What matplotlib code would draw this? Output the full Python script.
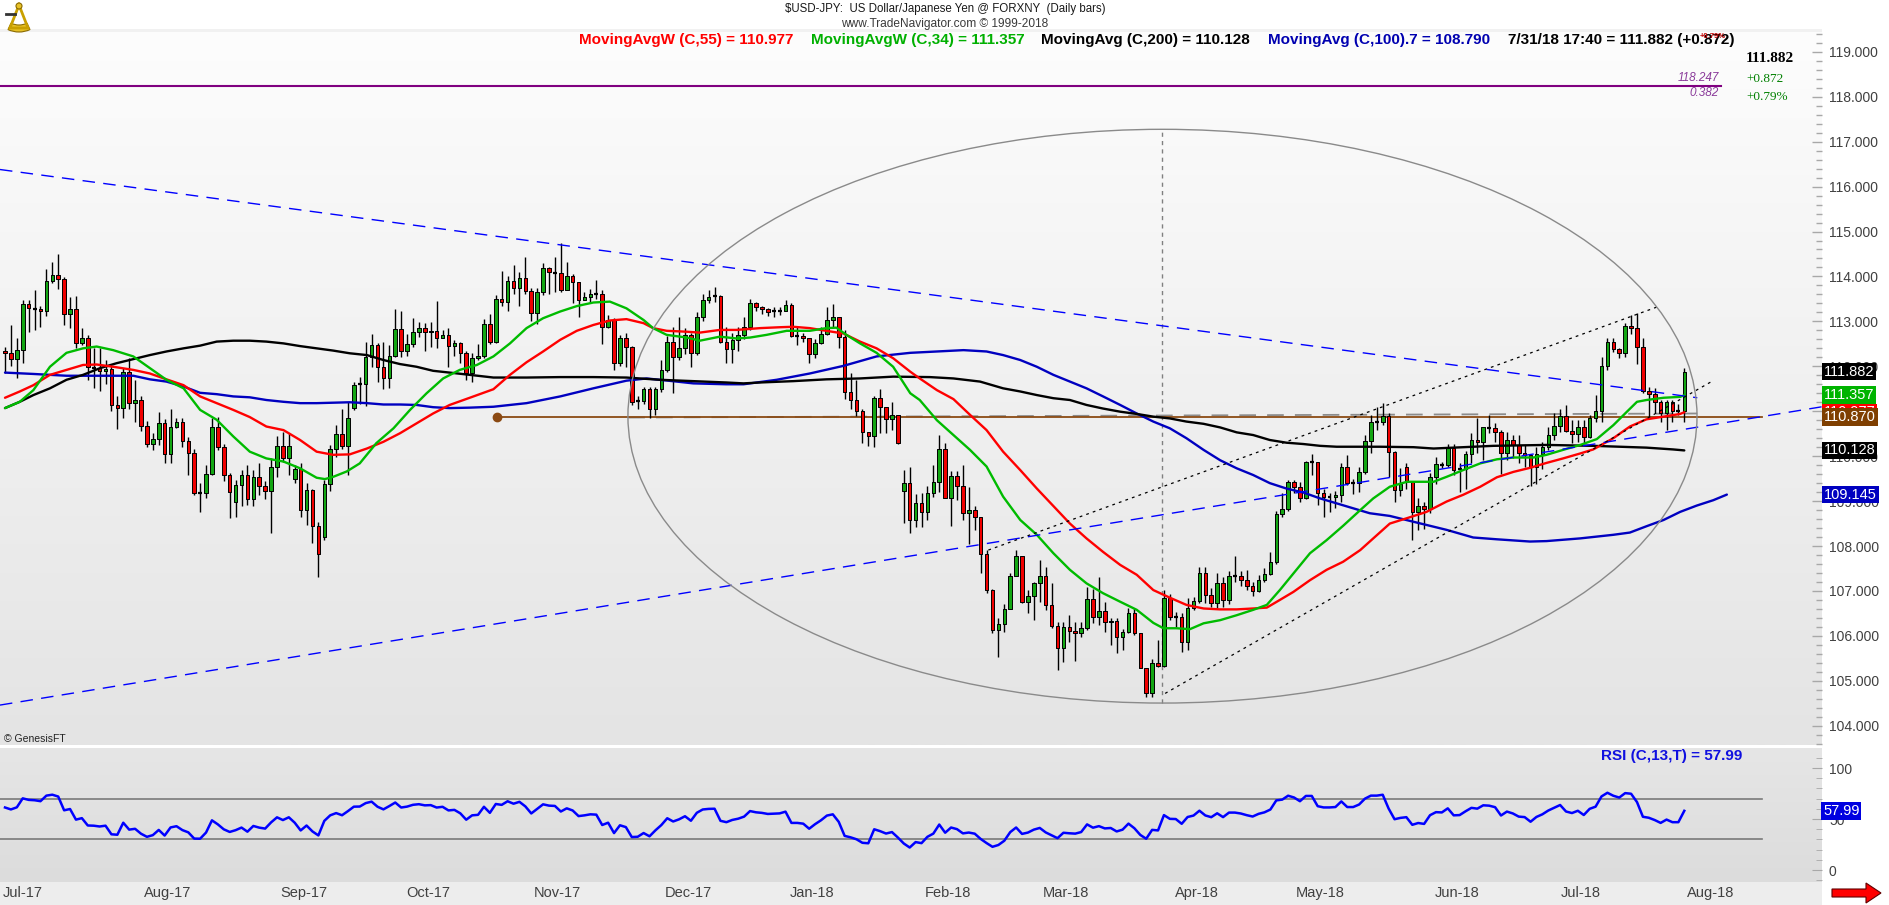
import numpy as np
import pandas as pd
import matplotlib
matplotlib.use("Agg")
import matplotlib.pyplot as plt
from matplotlib.patches import Ellipse, Rectangle, Polygon, Wedge, Circle
from matplotlib.collections import PatchCollection
import matplotlib.transforms as mtransforms
from matplotlib.ticker import MultipleLocator, FuncFormatter
from matplotlib.colors import LinearSegmentedColormap

plt.rcParams['font.family'] = ['Liberation Sans', 'DejaVu Sans']
plt.rcParams['lines.scale_dashes'] = False

# ---------------- data ----------------
dates = pd.bdate_range("2017-06-28", "2018-07-31")   # daily bars (285)

closes = [
    112.29,112.17,112.36,113.38,113.29,113.27,113.22,113.90,114.03,113.94,
    113.16,113.28,112.51,112.63,111.99,111.97,111.90,111.95,111.13,111.08,
    111.88,111.18,111.24,110.68,110.27,110.38,110.73,110.05,110.66,110.76,
    110.33,110.06,109.19,109.17,109.60,110.66,110.20,109.57,109.20,109.35,
    109.57,109.05,109.54,109.34,109.23,109.75,110.23,109.97,110.23,109.71,
    108.80,109.24,108.45,107.82,109.37,110.15,110.49,110.23,110.84,111.58,
    111.60,112.20,112.47,111.99,111.73,112.23,112.82,112.35,112.49,112.76,
    112.85,112.76,112.79,112.62,112.70,112.46,112.51,112.29,111.84,
    112.18,112.22,112.94,112.53,113.50,113.44,113.90,113.74,113.97,113.68,
    113.18,113.65,114.18,114.09,114.07,113.70,114.01,113.87,113.48,113.54,
    113.62,113.60,112.88,113.03,112.07,112.62,112.44,111.21,111.23,111.49,
    111.06,111.49,111.91,112.53,112.21,112.41,112.70,112.29,113.09,113.48,
    113.55,113.57,112.53,112.39,112.59,112.70,112.88,113.40,113.31,113.27,
    113.20,113.22,113.24,113.36,112.67,112.67,112.62,112.27,112.51,112.73,
    113.02,113.10,112.66,111.42,111.25,111.01,110.53,110.46,111.29,111.09,
    110.83,110.92,110.30,109.40,108.59,108.95,108.76,109.19,
    109.42,110.15,109.08,109.56,109.34,108.73,108.80,108.64,107.82,107.02,
    106.12,106.26,106.59,107.33,107.78,106.76,106.89,107.17,107.33,106.69,
    106.23,105.72,106.19,106.11,106.06,106.18,106.81,106.43,106.56,106.31,
    106.34,105.97,106.09,106.52,106.07,105.28,104.72,105.40,105.33,106.85,
    106.43,106.41,105.87,106.61,106.78,107.39,106.91,106.73,107.18,106.80,
    107.33,107.33,107.25,107.11,107.00,107.24,107.38,107.64,108.71,108.82,
    109.42,109.31,109.08,109.86,109.86,109.19,109.10,109.10,109.14,109.75,
    109.40,109.40,109.65,110.34,110.77,110.77,
    110.89,110.09,109.25,109.37,109.43,108.76,108.90,108.82,109.53,109.82,
    109.80,110.19,109.69,109.71,110.04,110.37,110.32,110.64,110.62,110.54,
    110.06,110.36,110.25,110.06,110.03,109.75,110.04,110.21,110.47,110.67,
    110.89,110.57,110.49,110.64,110.43,110.84,111.00,112.01,112.53,112.38,
    112.29,112.89,112.86,112.44,111.46,111.38,111.20,110.97,111.21,111.01,
    111.01,111.882,
]
highs = [
    112.44,112.93,112.62,113.48,113.48,113.70,113.35,114.16,114.32,114.50,
    113.98,113.54,113.57,112.86,112.70,112.40,112.40,112.15,112.01,111.33,
    111.96,112.18,111.70,111.33,110.79,110.51,110.98,110.83,111.05,110.84,
    110.84,110.42,110.17,109.40,109.80,110.84,110.88,110.28,109.62,109.47,
    109.69,109.80,109.69,109.84,109.44,109.95,110.45,110.54,110.51,109.80,
    109.84,109.41,109.28,108.54,109.47,110.25,110.69,111.04,111.21,111.66,
    111.77,112.53,112.71,112.51,112.53,112.47,113.28,113.22,112.71,113.08,
    112.99,112.96,112.99,113.45,112.81,112.85,112.58,112.53,112.33,
    112.29,112.49,113.05,113.16,113.59,114.13,114.01,114.26,114.11,114.44,
    113.74,113.74,114.29,114.22,114.43,114.74,114.33,114.06,113.88,113.66,
    113.71,113.92,113.70,113.14,113.07,112.70,112.74,112.45,111.33,111.55,
    111.55,111.55,112.15,112.67,112.88,113.09,112.85,112.74,113.20,113.60,
    113.70,113.76,113.59,112.88,112.75,112.88,113.10,113.49,113.44,113.35,
    113.30,113.32,113.33,113.48,113.40,112.88,112.75,112.62,112.60,112.88,
    113.33,113.38,113.10,112.81,111.84,111.70,111.04,110.53,111.33,111.49,
    111.09,111.21,110.92,109.70,109.77,109.15,109.19,109.33,
    109.81,110.48,110.29,109.67,109.67,109.80,109.32,108.89,108.64,107.91,
    107.05,106.40,106.72,107.39,107.91,107.78,107.02,107.21,107.68,107.54,
    107.18,106.32,106.32,106.46,106.32,106.32,107.08,107.04,107.32,106.76,
    106.40,106.39,106.15,106.61,106.61,106.07,105.28,105.48,105.91,107.02,
    106.93,106.54,106.50,106.84,106.87,107.53,107.53,107.06,107.39,107.32,
    107.45,107.78,107.45,107.47,107.21,107.35,107.52,107.86,108.77,109.19,
    109.47,109.47,109.43,109.89,110.05,109.88,109.28,109.19,109.22,109.85,
    110.03,109.50,109.75,110.47,110.92,111.10,
    111.19,110.95,110.12,109.74,109.84,109.43,109.08,108.99,109.62,109.99,
    109.88,110.27,110.27,109.85,110.12,110.51,110.85,110.66,110.91,110.73,
    110.58,110.54,110.48,110.47,110.25,110.03,110.21,110.32,110.65,110.95,
    111.06,111.15,110.80,110.80,110.80,110.91,111.36,112.20,112.62,112.64,
    112.40,112.96,113.14,113.19,112.62,111.55,111.51,111.25,111.25,111.25,
    111.17,111.97,
]
lows = [
    111.84,112.00,111.73,112.07,112.76,112.81,112.88,113.11,113.85,113.71,
    112.92,112.86,112.40,112.47,111.70,111.51,111.45,111.60,111.01,110.61,
    110.84,111.05,110.77,110.55,110.21,110.14,110.25,109.84,109.84,110.62,
    110.21,109.57,109.14,108.75,109.06,109.58,110.14,109.45,108.62,108.65,
    108.88,108.91,108.88,109.14,109.04,108.28,109.54,109.88,109.57,109.40,
    108.65,108.47,108.06,107.32,108.13,109.23,109.99,110.17,109.58,111.03,
    111.16,111.12,111.99,111.66,111.49,111.52,112.21,112.21,112.23,112.44,
    112.66,112.35,112.44,112.40,112.62,111.99,112.23,112.07,111.70,
    111.66,112.15,112.18,112.49,112.51,113.34,113.23,113.62,113.34,113.60,
    113.00,112.94,113.59,113.62,113.66,113.66,113.70,113.40,113.09,113.48,
    113.44,113.50,112.49,112.85,111.92,112.00,111.99,111.14,111.06,111.16,
    110.84,110.92,111.43,111.88,111.40,112.15,112.28,111.99,112.25,113.00,
    113.40,113.44,112.51,112.07,112.07,112.33,112.60,112.80,113.22,113.16,
    113.12,113.10,113.14,113.22,112.66,112.48,112.55,112.07,112.18,112.50,
    112.70,112.88,112.40,111.27,111.04,110.90,110.30,110.23,110.20,110.51,
    110.51,110.58,110.26,108.51,108.28,108.43,108.43,108.58,
    109.10,109.21,109.06,108.45,109.03,108.58,108.05,108.36,107.41,106.95,
    106.06,105.54,106.09,106.59,107.33,106.73,106.52,106.35,106.76,106.58,
    106.17,105.25,105.41,105.86,105.45,105.98,106.13,106.28,106.24,106.08,
    105.80,105.61,105.69,106.06,106.03,105.28,104.65,104.63,105.30,105.30,
    106.35,106.20,105.65,105.69,106.58,106.73,106.73,106.65,106.61,106.65,
    106.72,107.21,107.10,107.02,106.89,106.97,107.20,107.35,107.60,108.65,
    108.77,109.17,108.97,109.05,109.58,108.91,108.65,108.75,108.84,108.99,
    109.36,109.15,109.20,109.60,110.08,110.58,
    110.70,109.54,108.97,109.11,109.26,108.13,108.36,108.39,108.73,109.39,
    109.73,109.77,109.58,109.20,109.28,109.84,110.06,109.91,110.52,110.31,
    109.60,109.91,109.95,109.84,109.77,109.34,109.37,109.71,110.14,110.36,
    110.54,110.54,110.29,110.32,110.29,110.40,110.75,110.77,111.92,112.32,
    112.18,112.21,112.73,112.06,111.40,110.88,110.95,110.77,110.58,110.77,
    110.91,110.75,
]
# opens follow the previous close except where the chart shows a gap
gap_opens = {0: 112.35, 39: 108.98, 49: 109.49, 54: 108.21, 59: 111.07, 152: 109.23, 237: 109.75}

# moving averages as (bar, value) samples
wma55 = [(0,111.30),(2.5,111.44),(4.8,111.58),(7.6,111.81),(10.4,111.92),(13.2,112.03),(15.5,112.04),(18.3,111.99),(21.7,111.92),(24.5,111.84),(27.3,111.71),(30.2,111.58),(33,111.33),(35.8,111.18),(38.6,111.03),(41.4,110.87),(44.2,110.66),(47.1,110.58),(49.9,110.36),(52.7,110.10),(55.5,110.03),(58.3,110.04),(61.2,110.17),(64,110.32),(66.8,110.51),(69.6,110.73),(72.4,110.95),(75.2,111.14),(78.6,111.30),(82.6,111.49),(85.4,111.81),(88.2,112.09),(91,112.33),(93.9,112.59),(96.7,112.79),(99.5,112.92),(102.3,113.02),(105.1,113.05),(108,112.96),(109.6,112.85),(111.9,112.79),(115.3,112.77),(117.5,112.75),(120.9,112.81),(123.7,112.81),(127.7,112.85),(131.1,112.87),(133.3,112.88),(136.1,112.85),(138.9,112.79),(141.8,112.73),(144.6,112.55),(147.4,112.40),(150.2,112.18),(153.1,111.88),(154.7,111.73),(157.6,111.47),(160.4,111.27),(163.2,110.92),(166,110.58),(168.8,110.10),(171.7,109.69),(174.5,109.28),(177.3,108.89),(180.1,108.50),(182.9,108.17),(185.7,107.87),(188.6,107.58),(191.4,107.36),(194.2,107.02),(197,106.85),(199.8,106.69),(202.7,106.61),(205.5,106.59),(208.3,106.59),(211.1,106.61),(213.4,106.63),(215.6,106.80),(217.9,106.98),(220.7,107.24),(223.5,107.47),(226.3,107.65),(229.2,107.91),(231.4,108.17),(234.2,108.50),(237.1,108.62),(240.4,108.76),(243.8,108.99),(246.6,109.14),(249.5,109.32),(252.3,109.53),(255.1,109.65),(257.9,109.74),(260.7,109.85),(263.5,109.95),(266.4,110.06),(268.6,110.15),(272,110.40),(274.8,110.66),(277.6,110.82),(280.5,110.88),(283.3,110.94),(284,110.977)]
wma34 = [(0,111.07),(2.5,111.21),(4.8,111.47),(7.6,111.99),(10.4,112.30),(13.2,112.40),(15.5,112.44),(18.3,112.36),(21.7,112.22),(24.5,111.96),(27.3,111.70),(30.2,111.51),(33,111.03),(35.8,110.81),(38.6,110.44),(41.4,110.10),(44.2,109.95),(47.1,109.88),(49.9,109.73),(52.7,109.52),(54.1,109.49),(55.5,109.54),(57.8,109.66),(60,109.84),(62.8,110.29),(65.7,110.62),(68.5,111.03),(71.3,111.40),(74.1,111.73),(76.9,111.92),(79.8,112.03),(82.6,112.22),(85.4,112.51),(88.2,112.85),(91,113.07),(93.9,113.22),(96.7,113.34),(99.5,113.42),(102.3,113.44),(105.1,113.29),(108,113.03),(109.6,112.85),(111.9,112.70),(115.3,112.64),(117.5,112.57),(120.9,112.66),(123.7,112.62),(126,112.64),(128.8,112.70),(132.2,112.79),(136.1,112.79),(138.9,112.85),(140.6,112.86),(142.3,112.70),(144.6,112.51),(147.4,112.30),(150.2,111.99),(153.1,111.40),(154.7,111.25),(157.6,110.80),(160.4,110.47),(163.2,110.14),(166,109.77),(168.8,109.10),(171.7,108.58),(174.5,108.25),(177.3,107.84),(180.1,107.47),(182.9,107.17),(185.7,106.95),(188.6,106.76),(191.4,106.58),(194.2,106.29),(195.9,106.17),(198.1,106.17),(200.4,106.15),(202.7,106.28),(205.5,106.35),(208.3,106.46),(211.1,106.58),(213.4,106.69),(215.6,107.02),(217.9,107.39),(220.7,107.84),(223.5,108.13),(226.3,108.45),(229.2,108.80),(231.4,109.06),(234.2,109.32),(237.1,109.43),(241.6,109.43),(243.8,109.54),(246.6,109.69),(249.5,109.84),(252.3,109.93),(255.1,109.97),(258.5,109.97),(260.7,110.03),(263.5,110.14),(266.4,110.25),(269.2,110.38),(272,110.69),(274.3,110.99),(276,111.21),(277.6,111.25),(280.5,111.30),(283.3,111.32),(284,111.357)]
sma200 = [(0,111.07),(2.5,111.21),(4.8,111.36),(7.6,111.51),(10.4,111.70),(13.2,111.81),(16.1,111.96),(18.9,112.07),(21.7,112.16),(24.5,112.25),(27.3,112.33),(30.2,112.40),(33,112.46),(35.8,112.55),(38.6,112.57),(41.4,112.57),(44.2,112.55),(47.1,112.51),(49.9,112.45),(52.7,112.40),(55.5,112.35),(58.3,112.29),(61.2,112.25),(64,112.14),(66.8,112.05),(69.6,111.99),(72.4,111.90),(75.2,111.86),(78.6,111.81),(82.6,111.75),(88.2,111.75),(93.9,111.76),(99.5,111.76),(105.1,111.75),(110.8,111.70),(116.4,111.67),(122,111.64),(124.9,111.62),(127.7,111.64),(133.3,111.67),(138.9,111.71),(144.6,111.73),(150.2,111.77),(156.4,111.76),(160.4,111.73),(164.9,111.66),(168.8,111.51),(171.7,111.44),(174.5,111.36),(177.3,111.29),(180.1,111.25),(182.9,111.14),(185.7,111.06),(188.6,110.99),(191.4,110.94),(194.2,110.88),(197,110.84),(199.8,110.77),(202.7,110.72),(205.5,110.64),(208.3,110.53),(211.1,110.47),(213.9,110.36),(216.7,110.30),(219.6,110.27),(222.4,110.23),(225.2,110.21),(228,110.21),(232.5,110.21),(238.2,110.20),(241.6,110.17),(251.7,110.23),(260.7,110.25),(268.6,110.23),(277.6,110.19),(282.1,110.15),(284,110.128)]
sma100_fwd7 = [(0,111.86),(4.8,111.83),(10.4,111.79),(16.1,111.79),(21.7,111.79),(24.5,111.71),(27.3,111.66),(30.2,111.55),(33,111.41),(35.8,111.38),(38.6,111.33),(41.4,111.31),(44.2,111.25),(47.1,111.21),(49.9,111.18),(52.7,111.18),(55.5,111.19),(58.3,111.20),(61.2,111.18),(64,111.15),(66.8,111.15),(69.6,111.14),(72.4,111.09),(75.2,111.07),(78.6,111.08),(82.6,111.10),(88.2,111.18),(93.9,111.33),(99.5,111.51),(105.1,111.68),(108.5,111.73),(113.6,111.66),(116.4,111.62),(122,111.60),(124.9,111.60),(130.5,111.70),(136.1,111.84),(141.8,112.01),(147.4,112.22),(153.1,112.30),(157.6,112.33),(162.1,112.36),(166,112.33),(168.8,112.25),(171.7,112.14),(174.5,111.99),(177.3,111.81),(180.1,111.66),(182.9,111.51),(185.7,111.33),(188.6,111.14),(191.4,110.95),(194.2,110.77),(197,110.62),(199.8,110.40),(202.7,110.14),(205.5,109.91),(208.3,109.73),(211.1,109.58),(213.9,109.40),(216.7,109.28),(219.6,109.19),(222.4,109.06),(225.2,108.95),(228,108.84),(230.8,108.73),(234.2,108.67),(238.2,108.54),(243.8,108.36),(248.3,108.19),(252.3,108.15),(257.9,108.10),(260.7,108.11),(266.4,108.17),(272,108.25),(274.8,108.30),(277.6,108.44),(280.5,108.58),(283.3,108.76),(286.1,108.90),(288.9,109.02),(291.2,109.145)]

# RSI(13) Wilder averages carried in from before the first visible bar
rsi_period = 13
rsi_prior_avg_gain = 0.19
rsi_prior_avg_loss = 0.12

# drawing objects (anchor bar, anchor price)
upper_trend = [(-0.85, 116.38), (286.2, 111.30)]
lower_trend = [(-0.85, 104.46), (307.3, 111.10)]
channel_top = [(166.3, 107.91), (279.6, 113.33)]
channel_bot = [(196.2, 104.72), (288.6, 111.66)]
ellipse_center = (195.75, 110.89)
ellipse_size = (180.8, 12.77)
ellipse_axis = [(105.4, 110.86), (286.2, 110.95)]
support_level = 110.870
support_span = (83.2, 297.1)
fib_level = 118.247
fib_end = 290.2

month_labels = ['Jul-17','Aug-17','Sep-17','Oct-17','Nov-17','Dec-17','Jan-18',
                'Feb-18','Mar-18','Apr-18','May-18','Jun-18','Jul-18','Aug-18']
price_ticks = list(range(104, 120))

last_values = [('111.882', 111.882, '#000000'), ('111.357', 111.357, '#00B400'),
               ('110.977', 110.977, '#FF0000'), ('110.870', 110.870, '#7F3F00'),
               ('110.128', 110.128, '#000000'), ('109.145', 109.145, '#0000C0')]
rsi_last_label = 57.99

# ---------------- layout ----------------
W, H = 1890, 905
fig = plt.figure(figsize=(W / 100, H / 100), dpi=100)
fig.patch.set_facecolor('white')

def ftext(x, y, s, **kw):
    return fig.text(x / W, 1 - y / H, s, **kw)

PLOT_R = 1822
MAIN_T, MAIN_B = 32, 745
RSI_T, RSI_B = 748, 882
BAR_PX, X0_PX = 5.913, 5.0
PX_PER_YEN = 44.93

ax = fig.add_axes([0, 1 - MAIN_B / H, PLOT_R / W, (MAIN_B - MAIN_T) / H])
axr = fig.add_axes([0, 1 - RSI_B / H, PLOT_R / W, (RSI_B - RSI_T) / H])
xlim = (-X0_PX / BAR_PX, (PLOT_R - X0_PX) / BAR_PX)
ylim_main = (119 - (MAIN_B - 51.8) / PX_PER_YEN, 119 - (MAIN_T - 51.8) / PX_PER_YEN)
ylim_rsi = ((870 - RSI_B) / 1.02, (870 - RSI_T) / 1.02)

# bottom strip and backgrounds
fig.patches.append(Rectangle((0, 0), PLOT_R / W, (H - RSI_B) / H, transform=fig.transFigure,
                             fc='#EDEDED', ec='none', zorder=-5))
fig.patches.append(Rectangle((0, 1 - MAIN_T / H), PLOT_R / W, 3 / H, transform=fig.transFigure,
                             fc='#F1F1F1', ec='none', zorder=-5))
grad = np.linspace(0, 1, 256).reshape(-1, 1)
ax.imshow(grad, cmap=LinearSegmentedColormap.from_list('m', ['#E4E4E4', '#FDFDFD']),
          aspect='auto', extent=[0, 1, 0, 1], transform=ax.transAxes, origin='lower', zorder=0)
axr.imshow(grad, cmap=LinearSegmentedColormap.from_list('r', ['#DCDCDC', '#E6E6E6']),
           aspect='auto', extent=[0, 1, 0, 1], transform=axr.transAxes, origin='lower', zorder=0)

for a in (ax, axr):
    for s in a.spines.values():
        s.set_visible(False)

# ---------------- candles ----------------
n = len(closes)
xs = np.arange(n)
c = np.array(closes)
o = np.r_[c[0], c[:-1]]
for k, v in gap_opens.items():
    o[k] = v
ax.vlines(xs, lows, highs, colors='black', lw=1.0, zorder=3)
rects, fcs = [], []
for i in range(n):
    ht = abs(c[i] - o[i])
    if ht < 0.025:
        ax.hlines(c[i], i - 0.33, i + 0.33, colors='black', lw=1.6, zorder=4)
        continue
    rects.append(Rectangle((i - 0.3, min(o[i], c[i])), 0.6, ht))
    fcs.append('#13A613' if c[i] > o[i] else '#F00000')
ax.add_collection(PatchCollection(rects, facecolors=fcs, edgecolors='black',
                                  linewidths=0.7, zorder=4))

# ---------------- moving averages ----------------
for series, col in [(sma100_fwd7, '#0000C0'), (sma200, '#000000'),
                    (wma55, '#FF0000'), (wma34, '#00BB00')]:
    sx, sy = zip(*series)
    ax.plot(sx, sy, color=col, lw=1.7, zorder=5, solid_capstyle='round')

# ---------------- drawings ----------------
def seg(pts, **kw):
    (x1, y1), (x2, y2) = pts
    ax.plot([x1, x2], [y1, y2], **kw)

seg(upper_trend, color='#0000FF', lw=1.0, ls=(0, (9, 6)), zorder=6)
seg(lower_trend, color='#0000FF', lw=1.0, ls=(0, (9, 6)), zorder=6)
seg(channel_top, color='black', lw=0.9, ls=(0, (2, 3)), zorder=6)
seg(channel_bot, color='black', lw=0.9, ls=(0, (2, 3)), zorder=6)
seg(ellipse_axis, color='#8C8C8C', lw=1.3, ls=(0, (12, 8)), zorder=2.8)
ax.add_patch(Ellipse(ellipse_center, ellipse_size[0], ellipse_size[1], fill=False,
                     ec='#8A8A8A', lw=1.0, zorder=6))
cx, cy = ellipse_center
ax.plot([cx, cx], [cy - ellipse_size[1] / 2, cy + ellipse_size[1] / 2], color='#808080',
        lw=1.0, ls=(0, (3, 3)), zorder=2.9)
ax.plot(list(support_span), [support_level] * 2, color='#8B4A13', lw=1.3, zorder=2.9)
ax.plot([support_span[0]], [support_level], 'o', color='#8B4A13', ms=6, zorder=6)
ax.plot([xlim[0], fib_end], [fib_level] * 2, color='#800080', lw=1.5, zorder=6)

ax.set_xlim(*xlim)
ax.set_ylim(*ylim_main)

# price axis
ax.yaxis.tick_right()
ax.set_yticks(price_ticks)
ax.yaxis.set_major_formatter(FuncFormatter(lambda v, p: f'{v:.3f}'))
ax.yaxis.set_minor_locator(MultipleLocator(0.2))
ax.tick_params(axis='y', which='major', direction='in', length=7, width=1, color='#A8A8A8',
               pad=5, labelsize=10, labelcolor='#404040')
ax.tick_params(axis='y', which='minor', direction='in', length=4, width=1, color='#A8A8A8')
ax.tick_params(axis='x', bottom=False, labelbottom=False)

# last-value boxes
trans = mtransforms.blended_transform_factory(ax.transAxes, ax.transData)
for s, v, col in last_values:
    ax.text(1.0, v, s, transform=trans + mtransforms.ScaledTranslation(2 / 100, 0, fig.dpi_scale_trans),
            ha='left', va='center', color='white', fontsize=10.5, clip_on=False, zorder=10,
            bbox=dict(boxstyle='square,pad=0.12', fc=col, ec='none'))

# ---------------- RSI ----------------
d = np.diff(c)
g = np.where(d > 0, d, 0.0)
lo = np.where(d < 0, -d, 0.0)
N = rsi_period
rsi = np.full(n, np.nan)
ag, al = rsi_prior_avg_gain, rsi_prior_avg_loss
rsi[0] = 100 - 100 / (1 + ag / al)
for k in range(1, n):
    ag = (ag * (N - 1) + g[k - 1]) / N
    al = (al * (N - 1) + lo[k - 1]) / N
    rsi[k] = 100.0 if al == 0 else 100 - 100 / (1 + ag / al)

axr.plot(xs, rsi, color='#0000FF', lw=1.8, zorder=5)
axr.plot([xlim[0], support_span[1]], [70, 70], color='#7A7A7A', lw=1.2, zorder=3)
axr.plot([xlim[0], support_span[1]], [30, 30], color='#7A7A7A', lw=1.2, zorder=3)
axr.set_xlim(*xlim)
axr.set_ylim(*ylim_rsi)
axr.yaxis.tick_right()
axr.set_yticks([0, 50, 100])
axr.yaxis.set_minor_locator(MultipleLocator(10))
axr.tick_params(axis='y', which='major', direction='in', length=7, color='#A8A8A8', pad=5,
                labelsize=10, labelcolor='#404040')
axr.tick_params(axis='y', which='minor', direction='in', length=4, color='#A8A8A8')
axr.tick_params(axis='x', bottom=False, labelbottom=False)
transr = mtransforms.blended_transform_factory(axr.transAxes, axr.transData)
axr.text(1.0, rsi_last_label, f'{rsi_last_label:.2f}',
         transform=transr + mtransforms.ScaledTranslation(1 / 100, 0, fig.dpi_scale_trans),
         ha='left', va='center', color='white', fontsize=10.5, clip_on=False, zorder=10,
         bbox=dict(boxstyle='square,pad=0.12', fc='#0000E0', ec='none'))

# month labels (a month that starts right at the left edge is pinned to the edge)
mstarts = pd.to_datetime(month_labels, format='%b-%y')
mpos = np.searchsorted(dates.values, mstarts.values)
tx = mtransforms.blended_transform_factory(axr.transData, fig.transFigure)
for lab, p in zip(month_labels, mpos):
    if p < 5:
        axr.text(xlim[0] + 0.4, 1 - 893 / H, lab, transform=tx, ha='left', va='center',
                 fontsize=10.5, color='#404040', clip_on=False, zorder=10)
    else:
        axr.text(p + 3.5, 1 - 893 / H, lab, transform=tx, ha='center', va='center',
                 fontsize=10.5, color='#404040', clip_on=False, zorder=10)

# ---------------- header texts ----------------
ftext(945, 9, '$USD-JPY:  US Dollar/Japanese Yen @ FORXNY  (Daily bars)', ha='center',
      va='center', fontsize=8.3, color='#1A1A1A')
ftext(945, 24, 'www.TradeNavigator.com \u00a9 1999-2018', ha='center', va='center',
      fontsize=8.6, color='#3A3A3A')
hdr = [(579, 'MovingAvgW (C,55) = 110.977', '#FF0000'),
       (811, 'MovingAvgW (C,34) = 111.357', '#00B000'),
       (1041, 'MovingAvg (C,200) = 110.128', '#000000'),
       (1268, 'MovingAvg (C,100).7 = 108.790', '#0000B0'),
       (1508, '7/31/18 17:40 = 111.882 (+0.872)', '#000000')]
for x, s, col in hdr:
    ftext(x, 40, s, ha='left', va='center', fontsize=11, fontweight='bold', color=col)
ftext(1700, 37, '+0.79%', ha='left', va='center', fontsize=5.5, fontweight='bold', color='#C00000')

ftext(1746, 59, '111.882', ha='left', va='center', fontsize=11, fontweight='bold',
      color='black', family=['Liberation Serif', 'DejaVu Serif'])
ftext(1746, 79, '+0.872', ha='left', va='center', fontsize=9.5, color='#008000',
      family=['Liberation Serif', 'DejaVu Serif'])
ftext(1746, 97, '+0.79%', ha='left', va='center', fontsize=9.5, color='#008000',
      family=['Liberation Serif', 'DejaVu Serif'])
ftext(1719, 78, '118.247', ha='right', va='center', fontsize=8.5, style='italic', color='#8A3A9A')
ftext(1719, 93, '0.382', ha='right', va='center', fontsize=8.5, style='italic', color='#8A3A9A')

ftext(4, 739, '\u00a9 GenesisFT', ha='left', va='center', fontsize=7.5, color='#222222')
ftext(1742, 756, 'RSI (C,13,T) = 57.99', ha='right', va='center', fontsize=11,
      fontweight='bold', color='#1010E0')

# red arrow (bottom right)
arrow_px = [(1832, 889), (1866, 889), (1866, 883), (1881, 893), (1866, 903), (1866, 897), (1832, 897)]
fig.patches.append(Polygon([(x / W, 1 - y / H) for x, y in arrow_px], closed=True,
                           transform=fig.transFigure, fc='#FF0000', ec='#600000', lw=0.8, zorder=5))

# small gold sextant logo (top left)
lax = fig.add_axes([3 / W, 1 - 36 / H, 30 / W, 34 / H])
lax.set_xlim(0, 30); lax.set_ylim(0, 34); lax.axis('off')
lax.add_patch(Wedge((16, 30), 26, 245, 295, width=7, fc='#E8C227', ec='#8A6A00', lw=0.8))
lax.add_patch(Polygon([(16, 31), (7, 8), (25, 8)], closed=True, fill=False, ec='#C9A000', lw=2))
lax.add_patch(Circle((16, 30), 3, fc='#E8C227', ec='#8A6A00', lw=0.8))
lax.plot([3, 12], [22, 22], color='#333333', lw=2)

fig.savefig('out.png', dpi=100)
